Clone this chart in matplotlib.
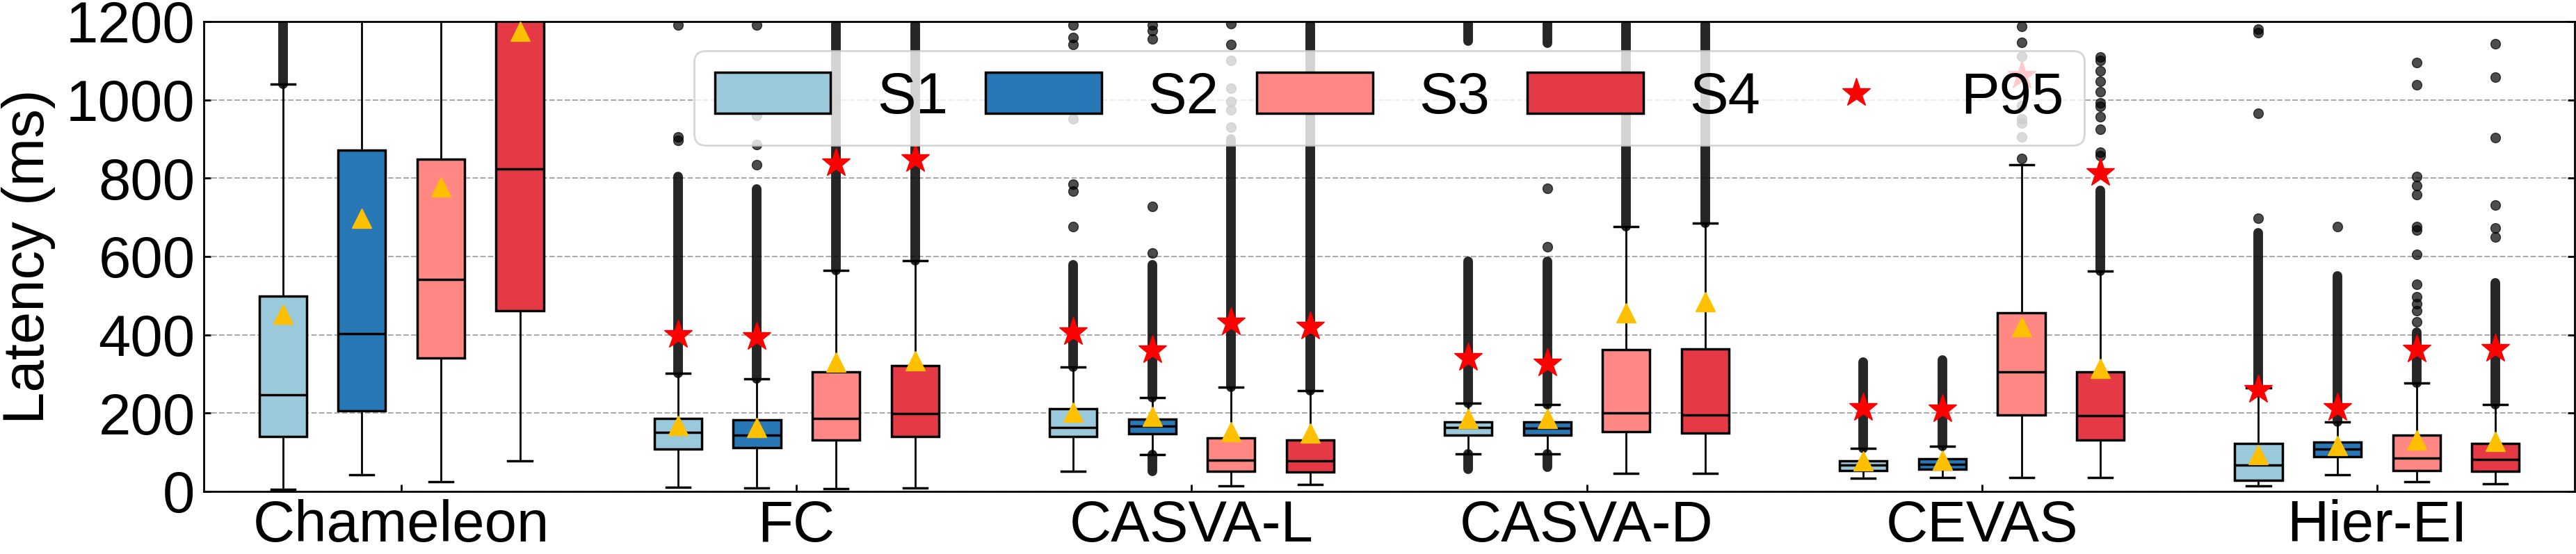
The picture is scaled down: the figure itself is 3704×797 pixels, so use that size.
import numpy as np
import matplotlib
matplotlib.use("Agg")
import matplotlib.pyplot as plt
from matplotlib.patches import Patch
from matplotlib.lines import Line2D

plt.rcParams["font.family"] = ["Liberation Sans", "DejaVu Sans"]

# ---- data (ms) ----
methods = ["Chameleon", "FC", "CASVA-L", "CASVA-D", "CEVAS", "Hier-EI"]
scenarios = ["S1", "S2", "S3", "S4"]
colors = ["#9AC9DB", "#2878B5", "#FF8884", "#E63946"]

# rows: methods, cols: S1..S4
whislo = [[6, 42, 24, 78], [10, 9, 7, 8], [51, 94, 14, 18],
          [96, 95, 47, 47], [33, 36, 36, 36], [14, 42, 24, 20]]
q1 = [[140, 206, 341, 461], [108, 112, 131, 140], [140, 148, 51, 50],
      [143, 143, 153, 150], [54, 56, 196, 131], [29, 89, 54, 51]]
med = [[247, 403, 542, 823], [151, 144, 186, 198], [164, 166, 80, 78],
       [164, 161, 200, 195], [67, 69, 306, 194], [68, 108, 86, 81]]
q3 = [[499, 871, 849, 1400], [187, 182, 305, 322], [212, 185, 137, 132],
      [177, 177, 362, 364], [78, 83, 456, 306], [123, 126, 144, 122]]
whishi = [[1040, 1850, 1610, 2800], [301, 288, 565, 590], [317, 239, 266, 257],
          [225, 222, 676, 686], [110, 116, 834, 563], [264, 177, 277, 222]]
mean = [[452, 697, 778, 1175], [168, 164, 331, 333], [202, 191, 153, 150],
        [186, 186, 457, 484], [78, 80, 421, 314], [94, 117, 132, 128]]
p95 = [[np.nan, np.nan, np.nan, np.nan], [400, 394, 838, 849], [407, 360, 431, 421],
       [340, 326, np.nan, np.nan], [213, 209, 1061, 813], [259, 213, 362, 364]]

# outliers: dense streaks as (lo, hi) and isolated points
flier_bands = [
    [[(1040, 1210)], [], [], []],
    [[(301, 804)], [(288, 772)], [(565, 1210)], [(590, 1210)]],
    [[(317, 578)], [(239, 578), (51, 94)], [(266, 900)], [(257, 1210)]],
    [[(225, 587), (56, 96), (1150, 1205)], [(222, 587), (63, 95), (1145, 1205)],
     [(676, 1210)], [(686, 1210)]],
    [[(110, 331)], [(116, 335)], [], [(563, 768)]],
    [[(264, 660)], [(177, 551)], [(277, 407)], [(222, 533)]],
]
flier_pts = [
    [[], [], [], []],
    [[897, 905, 1191], [835, 885, 961, 1191], [], []],
    [[677, 767, 785, 952, 1141, 1159, 1191], [608, 727, 1155, 1177, 1191],
     [930, 975, 995, 1030, 1100, 1141, 1195], []],
    [[], [625, 774], [], []],
    [[], [], [851, 906, 940, 952, 985, 1111, 1146, 1188],
     [858, 867, 925, 957, 984, 993, 1020, 1047, 1074, 1101, 1110]],
    [[697, 966, 1172, 1180], [677],
     [434, 461, 479, 497, 529, 605, 668, 677, 758, 781, 804, 1038, 1096],
     [650, 673, 731, 903, 1058, 1144]],
]

offsets = [-0.3, -0.1, 0.1, 0.3]
box_w = 0.12
FS = 60

W, H = 3704, 797
fig = plt.figure(figsize=(W / 100, H / 100), dpi=100)
ax = fig.add_axes([293 / W, 1 - 707 / H, (3702 - 293) / W, (707 - 31) / H])

for j in range(len(scenarios)):
    stats, pos = [], []
    for i in range(len(methods)):
        stats.append(dict(whislo=whislo[i][j], q1=q1[i][j], med=med[i][j],
                          q3=q3[i][j], whishi=whishi[i][j], mean=mean[i][j],
                          fliers=flier_pts[i][j]))
        pos.append(i + offsets[j])
    bp = ax.bxp(stats, positions=pos, widths=box_w, patch_artist=True,
                showmeans=True, manage_ticks=False,
                boxprops=dict(facecolor=colors[j], edgecolor="black", linewidth=2.5),
                whiskerprops=dict(color="black", linewidth=2),
                capprops=dict(color="black", linewidth=2.5),
                medianprops=dict(color="black", linewidth=2.5),
                meanprops=dict(marker="^", markerfacecolor="#FFC000",
                               markeredgecolor="#FFC000", markersize=20),
                flierprops=dict(marker="o", markerfacecolor="black",
                                markeredgecolor="black", markersize=10, alpha=0.7))
    for m in bp["means"]:
        m.set_zorder(4)
    for i in range(len(methods)):
        for lo, hi in flier_bands[i][j]:
            ax.vlines(i + offsets[j], lo, hi, colors="black", linewidth=10,
                      alpha=0.85, capstyle="round", zorder=2.5)
    ax.plot(pos, [p95[i][j] for i in range(len(methods))], ls="none", marker="*",
            color="red", markersize=31, zorder=4.5)

ax.set_xlim(-0.5, 5.5)
ax.set_ylim(0, 1200)
ax.set_yticks(range(0, 1201, 200))
ax.set_xticks(range(len(methods)))
ax.set_xticklabels(methods)
ax.tick_params(axis="both", direction="in", length=7, width=2, labelsize=FS)
ax.tick_params(axis="y", right=True, pad=9)
ax.tick_params(axis="x", pad=8)
for s in ax.spines.values():
    s.set_linewidth(2)
ax.yaxis.grid(True, linestyle="--", color="#aaaaaa", linewidth=1.5)
ax.set_axisbelow(True)
ax.set_ylabel("Latency (ms)", fontsize=FS)
ax.yaxis.set_label_coords(-0.0625, 0.5)

handles = [Patch(facecolor=c, edgecolor="black", linewidth=2.5, label=s)
           for c, s in zip(colors, scenarios)]
handles.append(Line2D([], [], ls="none", marker="*", color="red",
                      markersize=31, label="P95"))
leg = ax.legend(handles=handles, loc="upper center", ncol=5, fontsize=FS,
                columnspacing=0.65, borderpad=0.35, framealpha=0.8, edgecolor="0.8")
leg.get_frame().set_linewidth(2)

fig.savefig("out.png", dpi=100)
